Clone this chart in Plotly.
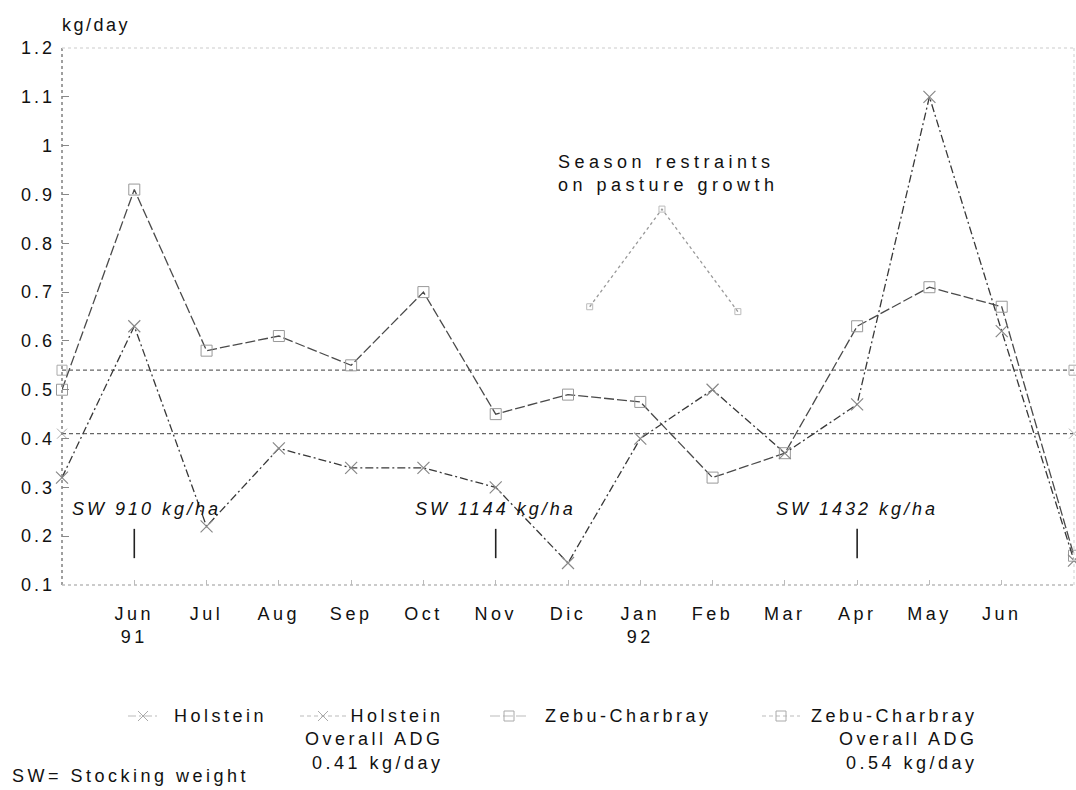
import plotly.graph_objects as go

# ---------------- data ----------------
month_pos = list(range(-1, 14))          # May 91 ... Jul 92 (index 0 = Jun 91)
tick_pos = list(range(0, 13))
tick_labels = ["Jun<br>91", "Jul", "Aug", "Sep", "Oct", "Nov", "Dic",
               "Jan<br>92", "Feb", "Mar", "Apr", "May", "Jun"]
holstein = [0.32, 0.63, 0.22, 0.38, 0.34, 0.34, 0.30, 0.145, 0.40, 0.50,
            0.37, 0.47, 1.10, 0.62, 0.15]
zebu = [0.50, 0.91, 0.58, 0.61, 0.55, 0.70, 0.45, 0.49, 0.475, 0.32,
        0.37, 0.63, 0.71, 0.67, 0.16]
holstein_adg = 0.41
zebu_adg = 0.54
adg_pos = [-1, 13]
season_pos = [6.3, 7.3, 8.35]
season_vals = [0.67, 0.87, 0.66]
season_label = "Season restraints<br>on pasture growth"
sw_pos = [0, 5, 10]
sw_labels = ["SW 910 kg/ha", "SW 1144 kg/ha", "SW 1432 kg/ha"]
y_ticks = [0.1, 0.2, 0.3, 0.4, 0.5, 0.6, 0.7, 0.8, 0.9, 1.0, 1.1, 1.2]
y_tick_labels = ["0.1", "0.2", "0.3", "0.4", "0.5", "0.6", "0.7", "0.8",
                 "0.9", "1", "1.1", "1.2"]
y_unit = "kg/day"
legend_names = ["Holstein", "Holstein<br>Overall ADG<br>0.41 kg/day",
                "Zebu-Charbray", "Zebu-Charbray<br>Overall ADG<br>0.54 kg/day"]
footnote = "SW= Stocking weight"

W, H = 1076, 790
FONT = "Liberation Sans, Arial, Helvetica, sans-serif"

# plot area in page pixels
PX0, PX1, PY0, PY1 = 62, 1074, 48, 585


def sp(text, px=3.5):
    return "<br>".join('<span style="letter-spacing:%spx">%s</span>' % (px, t)
                       for t in text.split("<br>"))


fig = go.Figure()

# overall ADG lines
fig.add_trace(go.Scatter(x=adg_pos, y=[holstein_adg] * 2, mode="lines+markers",
                         line=dict(color="#666", width=1.3, dash="4px,3px"),
                         marker=dict(symbol="x-thin-open", size=10, color="#aaa",
                                     line=dict(color="#aaa", width=1)),
                         cliponaxis=False, showlegend=False))
fig.add_trace(go.Scatter(x=adg_pos, y=[zebu_adg] * 2, mode="lines+markers",
                         line=dict(color="#666", width=1.3, dash="4px,3px"),
                         marker=dict(symbol="square-open", size=10, color="#aaa",
                                     line=dict(color="#aaa", width=1)),
                         cliponaxis=False, showlegend=False))
# season restraint curve
fig.add_trace(go.Scatter(x=season_pos, y=season_vals, mode="lines+markers",
                         line=dict(color="#999", width=1.3, dash="3px,3px"),
                         marker=dict(symbol="square-open", size=6, color="#bbb",
                                     line=dict(color="#bbb", width=1)),
                         showlegend=False))
# main series
fig.add_trace(go.Scatter(x=month_pos, y=zebu, mode="lines+markers",
                         line=dict(color="#4a4a4a", width=1.3, dash="10px,3px"),
                         marker=dict(symbol="square-open", size=11, color="#999",
                                     line=dict(color="#999", width=1)),
                         cliponaxis=False, showlegend=False))
fig.add_trace(go.Scatter(x=month_pos, y=holstein, mode="lines+markers",
                         line=dict(color="#383838", width=1.3,
                                   dash="8px,3px,2px,3px"),
                         marker=dict(symbol="x-thin-open", size=12, color="#888",
                                     line=dict(color="#888", width=1.2)),
                         cliponaxis=False, showlegend=False))

# stocking weight markers
for p in sw_pos:
    fig.add_trace(go.Scatter(x=[p, p], y=[0.155, 0.215], mode="lines",
                             line=dict(color="#222", width=1.6),
                             showlegend=False, hoverinfo="skip"))

annotations = []
for p, t in zip(sw_pos, sw_labels):
    annotations.append(dict(x=p, y=0.255, xref="x", yref="y",
                            text="<i>" + sp(t, 3) + "</i>",
                            showarrow=False, xanchor="center", yanchor="middle",
                            xshift=12 if p == 0 else 0,
                            font=dict(size=18, color="#111")))

# ---- legend area (page-pixel coordinates on x2/y2) ----
leg = [
    dict(line=(128, 160), mx=143, sym="x-thin-open", dash="8px,3px,2px,3px"),
    dict(line=(300, 346), mx=323, sym="x-thin-open", dash="4px,3px"),
    dict(line=(490, 528), mx=509, sym="square-open", dash="10px,3px"),
    dict(line=(762, 800), mx=781, sym="square-open", dash="4px,3px"),
]
LEG_Y = 716
for e in leg:
    fig.add_trace(go.Scatter(x=list(e["line"]), y=[LEG_Y, LEG_Y], mode="lines",
                             line=dict(color="#bbb", width=1, dash=e["dash"]),
                             xaxis="x2", yaxis="y2", showlegend=False,
                             hoverinfo="skip"))
    fig.add_trace(go.Scatter(x=[e["mx"]], y=[LEG_Y], mode="markers",
                             marker=dict(symbol=e["sym"], size=10, color="#aaa",
                                         line=dict(color="#aaa", width=1)),
                             xaxis="x2", yaxis="y2", showlegend=False,
                             hoverinfo="skip"))

annotations += [
    dict(x=172, y=LEG_Y, text=sp(legend_names[0]), xanchor="left", align="left"),
    dict(x=446, y=LEG_Y - 12, text=sp(legend_names[1]), xanchor="right",
         align="right", yanchor="top"),
    dict(x=543, y=LEG_Y, text=sp(legend_names[2]), xanchor="left", align="left"),
    dict(x=980, y=LEG_Y - 12, text=sp(legend_names[3]), xanchor="right",
         align="right", yanchor="top"),
    dict(x=10, y=776, text=sp(footnote), xanchor="left", align="left"),
    dict(x=60, y=25, text=sp(y_unit, 2.5), xanchor="left", align="left"),
    dict(x=556, y=173, text=sp(season_label, 4.5), xanchor="left", align="left"),
]
for a in annotations[len(sw_pos):]:
    a.update(xref="x2", yref="y2", showarrow=False)
    a.setdefault("yanchor", "middle")
    a["font"] = dict(size=18, color="#111")

# frame (dotted, faded)
shapes = [
    dict(type="line", xref="x domain", yref="y domain", x0=0, x1=0, y0=0, y1=1,
         line=dict(color="#888", width=1.6, dash="dot")),
    dict(type="line", xref="x domain", yref="y domain", x0=0, x1=1, y0=0, y1=0,
         line=dict(color="#bbb", width=1.4, dash="dot")),
    dict(type="line", xref="x domain", yref="y domain", x0=0, x1=1, y0=1, y1=1,
         line=dict(color="#ddd", width=1.4, dash="dot")),
    dict(type="line", xref="x domain", yref="y domain", x0=1, x1=1, y0=0, y1=1,
         line=dict(color="#ddd", width=1.4, dash="dot")),
]

fig.update_layout(
    width=W, height=H, autosize=False,
    margin=dict(l=0, r=0, t=0, b=0),
    paper_bgcolor="white", plot_bgcolor="rgba(0,0,0,0)",
    font=dict(family=FONT, size=18, color="#111"),
    showlegend=False,
    annotations=annotations, shapes=shapes,
    xaxis=dict(domain=[PX0 / W, PX1 / W], range=[-1, 13],
               anchor="y", tickmode="array", tickvals=tick_pos,
               ticktext=[sp(t) for t in tick_labels],
               ticks="inside", ticklen=5, tickcolor="#bbb",
               ticklabelstandoff=16, showgrid=False, zeroline=False,
               showline=False, automargin=False,
               tickfont=dict(size=18, color="#111")),
    yaxis=dict(domain=[(H - PY1) / H, (H - PY0) / H], range=[0.1, 1.2],
               anchor="x", tickmode="array", tickvals=y_ticks,
               ticktext=[sp(t, 3) for t in y_tick_labels],
               ticks="inside", ticklen=7, tickcolor="#888",
               ticklabelstandoff=6, showgrid=False, zeroline=False,
               showline=False, automargin=False,
               tickfont=dict(size=18, color="#111")),
    xaxis2=dict(domain=[0, 1], range=[0, W], anchor="y2", visible=False,
                fixedrange=True),
    yaxis2=dict(domain=[0, 1], range=[H, 0], anchor="x2", visible=False,
                fixedrange=True),
)

fig.write_html("out.html",
               config={"displayModeBar": False},
               post_script="document.body.style.margin='0';"
                           "document.body.style.overflow='hidden';")
